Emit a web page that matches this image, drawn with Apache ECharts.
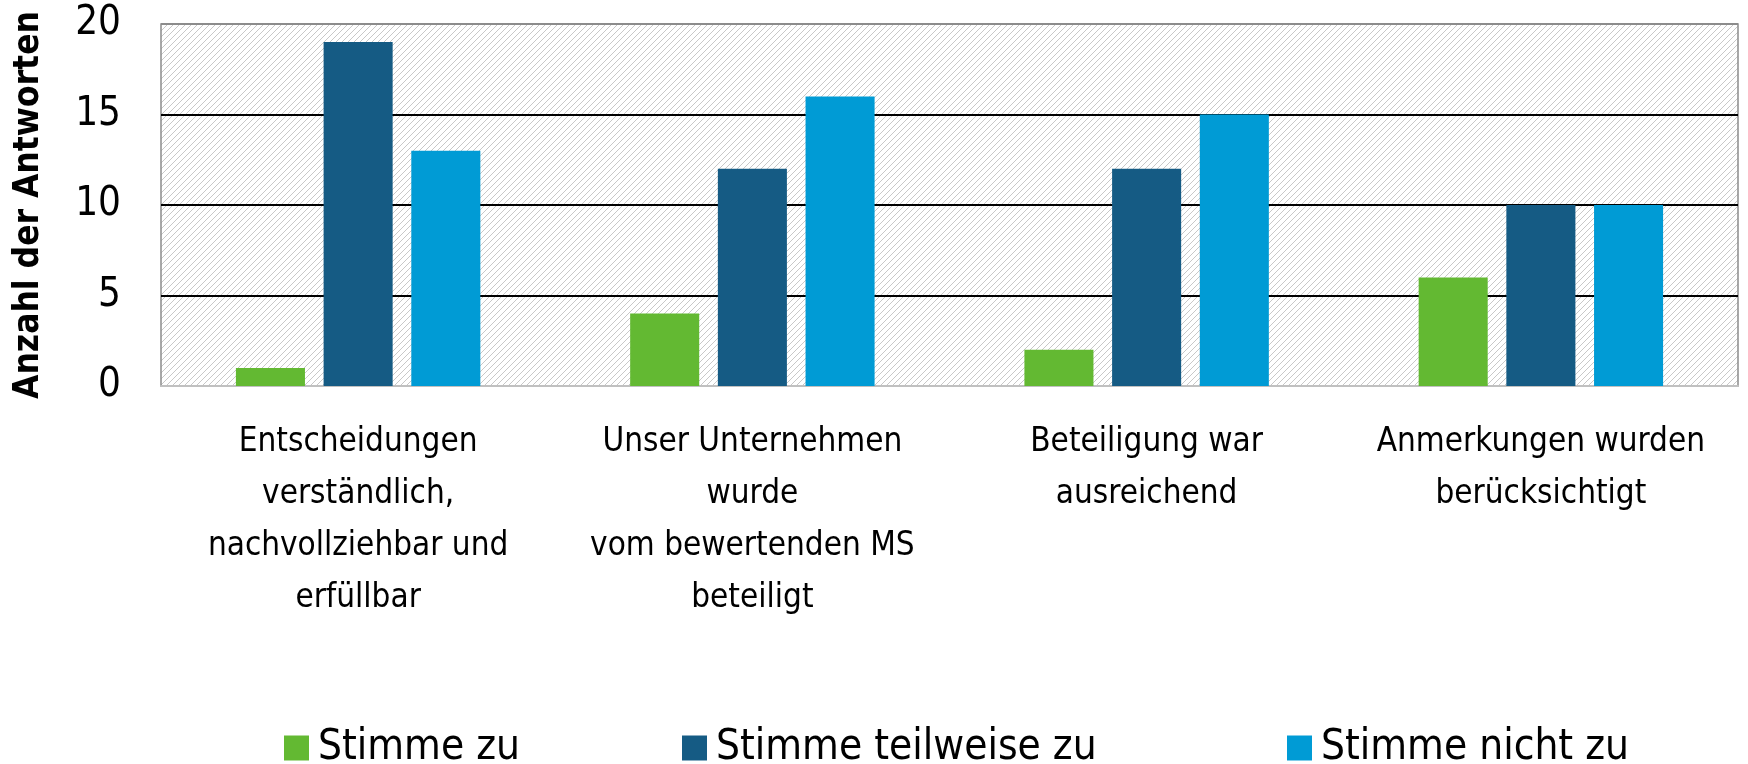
<!DOCTYPE html>
<html>
<head>
<meta charset="utf-8">
<script src="https://cdn.jsdelivr.net/npm/echarts@6/dist/echarts.min.js"></script>
<style>
  html, body { margin: 0; padding: 0; background: #fff; }
  #chart { width: 1748px; height: 764px; }
</style>
</head>
<body>
<div id="chart"></div>
<script>
// Kategorien (x-Achse)
var categories = [
    'Entscheidungen\nverständlich,\nnachvollziehbar und\nerfüllbar',
    'Unser Unternehmen\nwurde\nvom bewertenden MS\nbeteiligt',
    'Beteiligung war\nausreichend',
    'Anmerkungen wurden\nberücksichtigt'
];
var seriesNames = ['Stimme zu', 'Stimme teilweise zu', 'Stimme nicht zu'];
var stimmeZu = [1, 4, 2, 6];
var stimmeTeilweise = [19, 12, 12, 10];
var stimmeNicht = [13, 16, 15, 10];
var yTicks = [0, 5, 10, 15, 20];

var FONT = '"Liberation Sans Narrow", "DejaVu Sans Condensed", Roboto, sans-serif';

// Schraffur für den Plotbereich
var hatch = document.createElement('canvas');
hatch.width = 6;
hatch.height = 6;
(function () {
    var c = hatch.getContext('2d');
    c.fillStyle = '#ffffff';
    c.fillRect(0, 0, 6, 6);
    c.strokeStyle = '#c8c8c8';
    c.lineWidth = 1;
    c.beginPath();
    c.moveTo(-1, 7); c.lineTo(7, -1);
    c.moveTo(-4, 4); c.lineTo(4, -4);
    c.moveTo(2, 10); c.lineTo(10, 2);
    c.stroke();
})();

var colors = ['#63b932', '#155b84', '#009bd5'];

var legendBase = {
    orient: 'horizontal',
    top: 722,
    itemWidth: 25,
    itemHeight: 25,
    itemGap: 0,
    icon: 'rect',
    textStyle: { fontFamily: FONT, fontSize: 42, color: '#000', padding: [0, 0, 0, 4] }
};
var legendLefts = [279, 677, 1282];

var myChart = echarts.init(document.getElementById('chart'));
myChart.setOption({
    animation: false,
    color: colors,
    legend: seriesNames.map(function (n, i) {
        return Object.assign({}, legendBase, { left: legendLefts[i], data: [n] });
    }),
    grid: {
        left: 161,
        right: 10,
        top: 24,
        bottom: 378,
        outerBoundsMode: 'none',
        containLabel: false,
        show: true,
        backgroundColor: { image: hatch, repeat: 'repeat' },
        borderColor: '#8c8c8c',
        borderWidth: 1.5
    },
    xAxis: {
        type: 'category',
        data: categories,
        axisTick: { show: false },
        axisLine: { lineStyle: { color: '#c0c0c0', width: 2 } },
        axisLabel: {
            interval: 0,
            margin: 30,
            fontFamily: FONT,
            fontSize: 33,
            lineHeight: 52,
            color: '#000',
            align: 'center'
        }
    },
    yAxis: {
        type: 'value',
        min: yTicks[0],
        max: yTicks[yTicks.length - 1],
        interval: 5,
        name: 'Anzahl der Antworten',
        nameLocation: 'middle',
        nameGap: 115,
        nameTextStyle: { fontFamily: FONT, fontSize: 35, fontWeight: 'bold', color: '#000' },
        axisLine: { show: false },
        axisTick: { show: false },
        axisLabel: { margin: 40, fontFamily: FONT, fontSize: 40, color: '#000' },
        splitLine: {
            show: true,
            lineStyle: { color: ['#c0c0c0', '#000', '#000', '#000', '#8c8c8c'], width: 2 }
        }
    },
    series: [
        { name: seriesNames[0], type: 'bar', data: stimmeZu, barGap: '27%', barCategoryGap: '38%' },
        { name: seriesNames[1], type: 'bar', data: stimmeTeilweise, barGap: '27%', barCategoryGap: '38%' },
        { name: seriesNames[2], type: 'bar', data: stimmeNicht, barGap: '27%', barCategoryGap: '38%' }
    ]
});
</script>
</body>
</html>
